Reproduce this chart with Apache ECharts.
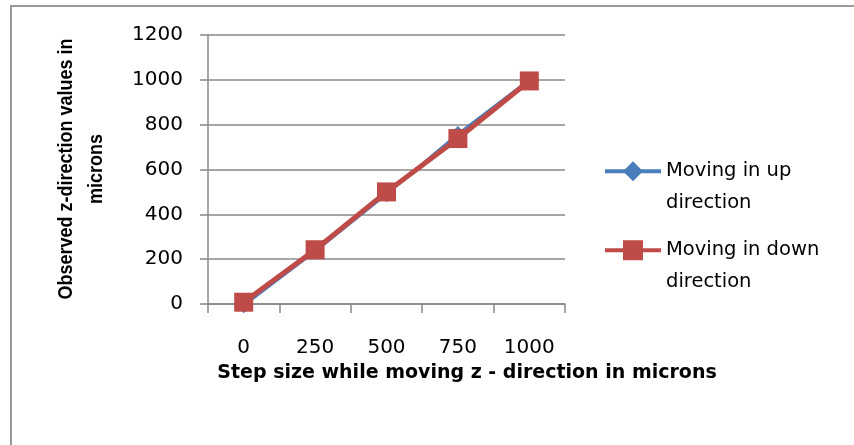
<!DOCTYPE html>
<html>
<head>
<meta charset="utf-8">
<script src="https://cdn.jsdelivr.net/npm/echarts@6/dist/echarts.min.js"></script>
<style>html,body{margin:0;padding:0;background:#fff;overflow:hidden}#c{width:854px;height:445px}</style>
</head>
<body>
<div id="c"></div>
<script>
const categories = ['0', '250', '500', '750', '1000'];
const upValues = [-6, 235, 490, 758, 1000];
const downValues = [8, 242, 500, 738, 995];
const yTicks = [0, 200, 400, 600, 800, 1000, 1200];
const seriesNames = ['Moving in up direction', 'Moving in down direction'];
const xTitle = 'Step size while moving z - direction in microns';
const yTitle = 'Observed z-direction values in\nmicrons';

const FONT = 'DejaVu Sans';
const chart = echarts.init(document.getElementById('c'), null, {renderer: 'canvas'});
const legendText = {fontFamily: FONT, fontSize: 19.5, color: '#000', lineHeight: 31.5};
const fmt = n => '\n' + n.replace(' direction', '\ndirection');
const legendBase = {
  orient: 'vertical', left: 598, itemWidth: 56, itemHeight: 25, itemGap: 5,
  formatter: fmt, textStyle: legendText, selectedMode: false,
  lineStyle: {width: 4}
};
chart.setOption({
  animation: false,
  backgroundColor: '#fff',
  grid: {left: 208, top: 35, width: 357, height: 269, containLabel: false},
  xAxis: {
    type: 'category',
    data: categories,
    boundaryGap: true,
    axisLine: {lineStyle: {color: '#888', width: 1.5}},
    axisTick: {show: true, length: 9, alignWithLabel: false, lineStyle: {color: '#888', width: 1.5}},
    axisLabel: {color: '#000', fontFamily: FONT, fontSize: 20, margin: 34}
  },
  yAxis: {
    type: 'value',
    min: yTicks[0], max: yTicks[yTicks.length - 1], interval: 200,
    axisLine: {show: true, lineStyle: {color: '#888', width: 1.5}},
    axisTick: {show: true, length: 8, lineStyle: {color: '#888', width: 1.5}},
    axisLabel: {color: '#000', fontFamily: FONT, fontSize: 20, margin: 25, formatter: v => String(v)},
    splitLine: {lineStyle: {color: '#888', width: 1.5}}
  },
  legend: [
    Object.assign({data: [seriesNames[0]], top: 119}, legendBase),
    Object.assign({data: [seriesNames[1]], top: 198}, legendBase)
  ],
  graphic: [
    {type: 'rect', shape: {x: 11, y: 6, width: 900, height: 500}, style: {fill: 'none', stroke: '#999', lineWidth: 2}, silent: true},
    {type: 'text', x: 467, y: 373, style: {text: xTitle, font: 'bold 19px "DejaVu Sans"', fill: '#000', align: 'center', verticalAlign: 'middle'}},
    {type: 'text', x: 81, y: 169, rotation: Math.PI / 2, scaleY: 1.15,
     style: {text: yTitle, font: 'bold 18px "Liberation Sans"', fill: '#000', align: 'center', verticalAlign: 'middle', lineHeight: 26}}
  ],
  series: [
    {
      name: seriesNames[0], type: 'line', data: upValues, clip: false,
      symbol: 'diamond', symbolSize: [16, 16],
      lineStyle: {color: '#4a7ebb', width: 3},
      itemStyle: {color: '#4a7ebb'}
    },
    {
      name: seriesNames[1], type: 'line', data: downValues, clip: false,
      symbol: 'rect', symbolSize: 19,
      lineStyle: {color: '#be4b48', width: 5},
      itemStyle: {color: '#be4b48'}
    }
  ]
});
</script>
</body>
</html>
